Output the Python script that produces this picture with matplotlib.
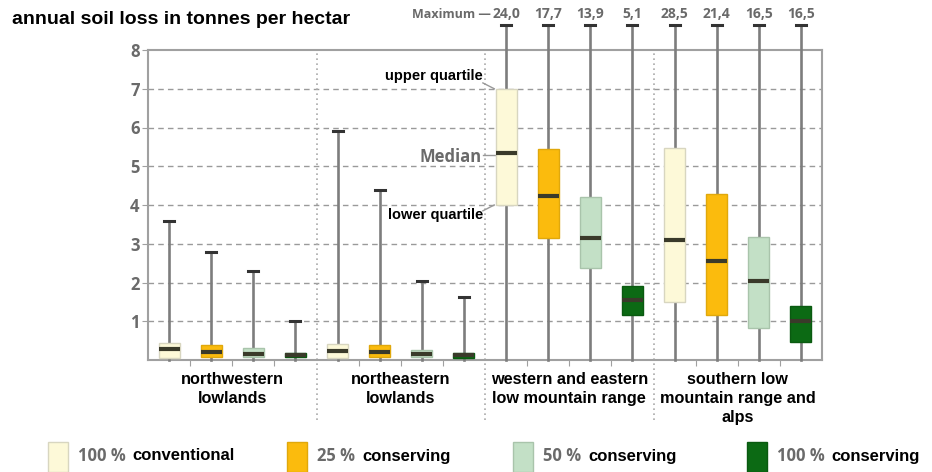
import matplotlib
matplotlib.use("Agg")
import matplotlib.pyplot as plt
from matplotlib.patches import Rectangle

# data (tonnes per hectare)
regions = ["northwestern\nlowlands", "northeastern\nlowlands",
           "western and eastern\nlow mountain range",
           "southern low\nmountain range and\nalps"]
series = ["100 %", "25 %", "50 %", "100 %"]
series_names = ["conventional", "conserving", "conserving", "conserving"]
colors = ["#fdf9d8", "#fbbb0d", "#c3e0c6", "#0c6a14"]
edge_colors = ["#d8d6c0", "#e0a80c", "#a9c4ab", "#0a5a10"]

# per region, per series
q1 = [[0.05, 0.08, 0.08, 0.07], [0.05, 0.07, 0.08, 0.06],
      [4.0, 3.14, 2.37, 1.16], [1.5, 1.16, 0.83, 0.47]]
med = [[0.28, 0.2, 0.15, 0.13], [0.23, 0.2, 0.15, 0.14],
       [5.33, 4.23, 3.15, 1.55], [3.09, 2.55, 2.04, 1.0]]
q3 = [[0.45, 0.38, 0.3, 0.18], [0.42, 0.38, 0.25, 0.18],
      [7.0, 5.44, 4.2, 1.9], [5.47, 4.28, 3.18, 1.39]]
maxima = [[3.6, 2.8, 2.3, 1.0], [5.9, 4.4, 2.05, 1.62],
          [24.0, 17.7, 13.9, 5.1], [28.5, 21.4, 16.5, 16.5]]
minima = [[0, 0, 0, 0], [0, 0, 0, 0], [0, 0, 0, 0], [0, 0, 0, 0]]
# regions whose maxima are written above the chart instead of drawn
max_written = [False, False, True, True]

WHISK_TOP = 8.65  # where whiskers beyond the axis are cut off

BOLD = "Liberation Sans"
GREY_FONT = "Open Sans"
GREY = "#6a6a6a"

fig = plt.figure(figsize=(9.32, 4.72), dpi=100)
ax = fig.add_axes([148 / 932, 1 - 360 / 472, 674 / 932, 310 / 472])
ax.set_xlim(0, 16)
ax.set_ylim(0, 8)

stats = []
positions = []
for g in range(4):
    for s in range(4):
        top = WHISK_TOP if max_written[g] else maxima[g][s]
        stats.append(dict(med=med[g][s], q1=q1[g][s], q3=q3[g][s],
                          whislo=minima[g][s], whishi=top, fliers=[]))
        positions.append(g * 4 + s + 0.5)

bp = ax.bxp(stats, positions=positions, widths=0.5, patch_artist=True,
            showfliers=False, manage_ticks=False,
            whiskerprops=dict(color="#7d7d7d", lw=1.9),
            capprops=dict(color="#333333", lw=2.2),
            medianprops=dict(color="#3a3a2a", lw=3, solid_capstyle="butt"),
            capwidths=0.24)
for i, box in enumerate(bp["boxes"]):
    box.set_facecolor(colors[i % 4])
    box.set_edgecolor(edge_colors[i % 4])
    box.set_linewidth(1)
    box.set_zorder(3)
for w in bp["whiskers"]:
    w.set_clip_on(False)
    w.set_zorder(2)
for k, c in enumerate(bp["caps"]):
    c.set_clip_on(False)
    if k % 2 == 0:
        c.set_visible(False)  # no cap at the bottom
for m in bp["medians"]:
    m.set_zorder(4)

# grid
for y in range(1, 8):
    ax.axhline(y, color="#9a9a9a", lw=1, ls=(0, (4, 3)), zorder=1)
ax.vlines([4, 8, 12], -1.55, 8, colors="#aaaaaa", lw=1.2,
          linestyles=(0, (1, 2)), clip_on=False, zorder=1)

for side in ["left", "bottom", "top", "right"]:
    ax.spines[side].set_color("#a0a0a0")
    ax.spines[side].set_linewidth(1.5)
    ax.spines[side].set_zorder(1)

ax.set_yticks(range(1, 9))
ax.set_yticklabels([str(v) for v in range(1, 9)], fontfamily=GREY_FONT,
                   fontweight="bold", fontsize=12, color=GREY)
ax.set_xticks([v for v in range(1, 16) if v % 4 != 0])
ax.set_xticklabels([])
ax.tick_params(axis="y", length=4, color="#a0a0a0", pad=2)
ax.tick_params(axis="x", length=4, color="#a0a0a0")

# maximum labels
for g in range(4):
    if not max_written[g]:
        continue
    for s in range(4):
        ax.text(g * 4 + s + 0.5, 8.92,
                f"{maxima[g][s]:.1f}".replace(".", ","),
                ha="center", va="center", fontfamily=GREY_FONT,
                fontweight="bold", fontsize=10, color=GREY)
ax.text(8.15, 8.92, "Maximum \u2014", ha="right", va="center",
        fontfamily=GREY_FONT, fontweight="bold", fontsize=9, color=GREY)

# annotations on the first box of the mountain region
ax.text(7.95, 7.32, "upper quartile", ha="right", va="center",
        fontfamily=BOLD, fontweight="bold", fontsize=10.5)
ax.plot([7.95, 8.22], [7.15, 7.0], color="#999999", lw=1)
ax.text(7.92, 5.25, "Median", ha="right", va="center",
        fontfamily=GREY_FONT, fontweight="bold", fontsize=12, color=GREY)
ax.plot([7.95, 8.25], [5.3, 5.3], color="#999999", lw=1)
ax.text(7.95, 3.75, "lower quartile", ha="right", va="center",
        fontfamily=BOLD, fontweight="bold", fontsize=10.5)
ax.plot([7.95, 8.22], [3.85, 4.0], color="#999999", lw=1)

# region labels
for g, name in enumerate(regions):
    ax.text(g * 4 + 2, -0.3, name, ha="center", va="top",
            fontfamily=BOLD, fontweight="bold", fontsize=11.7,
            linespacing=1.35)

fig.text(12 / 932, 1 - 20 / 472, "annual soil loss in tonnes per hectar",
         ha="left", va="center", fontfamily=BOLD, fontweight="bold",
         fontsize=14)

# legend
leg_x = [48, 287, 513, 747]
for i in range(4):
    x0 = leg_x[i] / 932
    fig.patches.append(Rectangle((x0, 0.0), 20 / 932, 30 / 472,
                                 transform=fig.transFigure,
                                 facecolor=colors[i],
                                 edgecolor=edge_colors[i], lw=1))
    t = fig.text(x0 + 30 / 932, 1 - 456 / 472, series[i], ha="left",
                 va="center", fontfamily=GREY_FONT, fontweight="bold",
                 fontsize=12, color=GREY)
    fig.canvas.draw()
    bb = t.get_window_extent()
    fig.text(bb.x1 / 932 + 7 / 932, 1 - 456 / 472, series_names[i],
             ha="left", va="center", fontfamily=BOLD, fontweight="bold",
             fontsize=12)

fig.savefig("out.png", dpi=100)
